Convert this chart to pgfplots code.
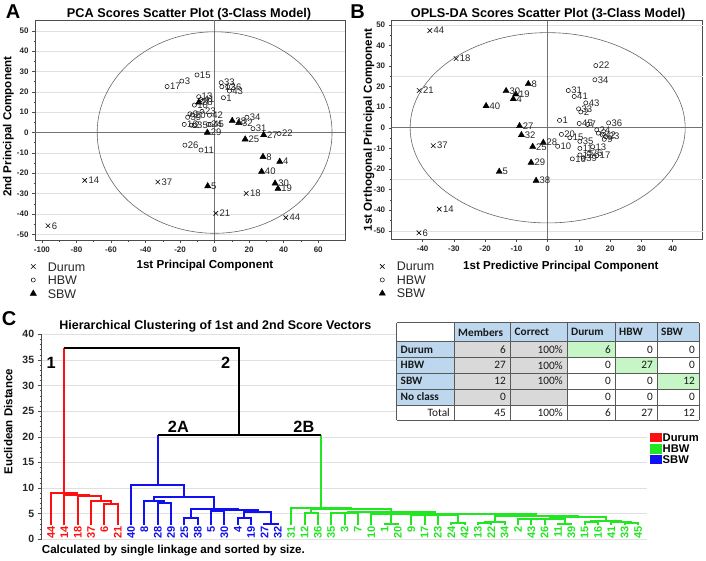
\documentclass[border=0pt]{standalone}
\usepackage{pgfplots}
\usepackage{pgfplotstable}
\pgfplotsset{compat=1.18}
\usepackage{fontspec}
\setmainfont{Liberation Sans}
\newfontfamily\tabfont{Carlito}
\newcommand{\fs}[1]{\fontsize{#1}{#1}\selectfont}
\definecolor{hdr}{HTML}{BDD7EE}
\definecolor{gry}{HTML}{D9D9D9}
\definecolor{grn}{HTML}{C6F5C6}
\definecolor{dgreen}{HTML}{22E622}
\definecolor{dred}{HTML}{FF1010}
\definecolor{dblue}{HTML}{1010F0}
\newcommand{\mrg}[6]{\addplot[#1, line width=2pt] coordinates {(#2,#3) (#2,#6) (#4,#6) (#4,#5)};}

% ---------- data: PCA scores (panel A) ----------
\pgfplotstableread{
x y l
-96.5 -45.8 6
-75.2 -23.5 14
-32.9 -24.3 37
18.3 -29.9 18
0.7 -39.7 21
41.2 -41.8 44
}\Adur
\pgfplotstableread{
x y l
-10.2 28.3 15
-19.0 25.3 3
-27.5 22.6 17
3.8 24.5 33
4.2 22.5 12
7.6 22.5 36
8.6 20.4 43
5.1 17.1 1
-9.2 17.6 13
-8.0 16.2 41
-7.2 15.4 7
-11.7 13.5 10
-7.3 10.4 23
-3.0 8.5 42
-14.3 9.2 9
-15.6 7.5 39
-13.0 8.6 20
-17.6 4.0 16
-11.8 3.4 35
-13.5 3.6 2
-3.6 4.0 24
-2.5 4.0 45
18.7 7.5 34
22.2 1.9 31
37.3 -0.5 22
-17.2 -6.2 26
-7.9 -8.6 11
}\Ahbw
\pgfplotstableread{
x y l
-4.2 0.0 29
-4.0 -26.3 5
17.7 -3.3 25
28.4 -1.2 27
28.0 -11.9 8
37.7 -14.3 4
27.2 -19.2 40
35.0 -25.0 30
36.7 -27.6 19
-9.2 14.8 28
10.2 5.8 38
14.0 4.8 32
}\Asbw
% ---------- data: OPLS-DA scores (panel B) ----------
\pgfplotstableread{
x y l
-37.7 47.2 44
-29.3 33.6 18
-41.1 18.1 21
-36.6 -8.7 37
-34.7 -39.5 14
-41.2 -51.0 6
}\Bdur
\pgfplotstableread{
x y l
15.4 30.2 22
15.1 23.3 34
6.6 18.1 31
8.5 15.2 41
12.2 12.1 43
9.9 9.2 33
10.6 7.7 2
3.8 3.6 1
10.1 2.1 45
12.8 1.6 7
19.5 2.4 36
4.4 -3.2 20
7.1 -4.8 15
3.2 -9.0 10
10.3 -6.6 35
15.7 -1.0 24
16.2 -2.6 3
17.5 -3.5 42
18.6 -4.3 23
18.1 -5.6 9
14.4 -9.2 13
10.3 -10.0 11
15.7 -13.5 17
10.3 -13.2 12
13.2 -12.4 26
7.9 -15.1 16
11.4 -14.8 39
}\Bhbw
\pgfplotstableread{
x y l
-6.2 21.3 8
-13.3 17.9 30
-10.2 16.3 19
-11.0 14.0 4
-19.7 10.6 40
-9.0 0.9 27
-8.4 -3.5 32
-1.4 -7.2 28
-4.8 -9.2 25
-5.3 -16.9 29
-15.5 -21.3 5
-3.7 -25.7 38
}\Bsbw

\pgfplotsset{
 scatterax/.style={
  scale only axis, anchor=south west,
  tick align=outside, tick pos=left,
  minor x tick num=1, minor y tick num=1,
  major tick length=3pt, minor tick length=1.5pt,
  axis line style={black!70, line width=0.6pt},
  every tick/.style={black!70, line width=0.5pt},
  grid style={black!12, line width=0.5pt},
  ticklabel style={font=\bfseries\fs{8}, text=black!85},
  /pgf/number format/assume math mode=true,
  every axis title shift=0pt,
  title style={anchor=center, font=\bfseries\fs{12.7}},
  xlabel style={anchor=center, font=\bfseries\fs{11.6}},
  ylabel style={anchor=center, font=\bfseries\fs{11.6}},
  legend style={anchor=north west, draw=none, fill=none, font=\fs{12.5}, inner sep=0pt, outer sep=0pt,
     row sep=4.5pt, column sep=0pt, nodes={inner sep=0pt, text height=9pt, text depth=0pt, text=black!85}},
  legend cell align=left,
  legend image code/.code={\path[draw=none, fill=none] (-3.5pt,-3pt) rectangle (14.5pt,3pt);
     \draw[mark repeat=2,mark phase=2,##1] plot coordinates {(-1pt,0pt) (0pt,0pt) (1pt,0pt)};},
  clip=false,
 },
 durum/.style={only marks, mark=x, mark size=3.2pt, black, line width=0.6pt},
 hbw/.style={only marks, mark=o, mark size=2.1pt, black, line width=0.5pt},
 sbw/.style={only marks, mark=triangle*, mark size=3.6pt, black},
 lbl/.style={draw=none, forget plot, nodes near coords, point meta=explicit symbolic,
   every node near coord/.append style={anchor=west, font=\fs{9.5}, inner sep=0pt, text=black!85, xshift=#1}},
 leaf/.style={draw=none, forget plot, nodes near coords, point meta=explicit symbolic,
   every node near coord/.append style={rotate=90, anchor=east, font=\bfseries\fs{11}, inner sep=0pt, text=#1}},
}
\begin{document}
\begin{tikzpicture}
\useasboundingbox (0,0) rectangle (706pt,560pt);

% ---------------- Panel A ----------------
\begin{axis}[scatterax, at={(35pt,320pt)}, width=310pt, height=220pt,
 xmin=-104, xmax=75.5, ymin=-52.8, ymax=55.3,
 xtick={-100,-80,...,60}, ytick={-50,-40,...,50}, ymajorgrids,
 title={PCA Scores Scatter Plot (3-Class Model)}, title style={at={(axis description cs:0.497,1.027)}},
 xlabel={1st Principal Component}, xlabel style={at={(axis description cs:0.548,-0.117)}},
 ylabel={2nd Principal Component}, ylabel style={at={(axis description cs:-0.086,0.515)}},
 legend style={at={(axis description cs:-0.0168,-0.1)}}]
\draw[black!55, line width=0.7pt] (axis cs:0,-52.8) -- (axis cs:0,55.3);
\draw[black!55, line width=0.7pt] (axis cs:-104,0) -- (axis cs:75.5,0);
\draw[black!60, line width=0.6pt] (axis cs:0,0) ellipse [x radius=68, y radius=49.5];
\addplot[durum] table {\Adur};
\addlegendentry{Durum}
\addplot[hbw] table {\Ahbw};
\addlegendentry{HBW}
\addplot[sbw] table {\Asbw};
\addlegendentry{SBW}
\addplot[lbl=3.6pt] table[meta=l] {\Adur};
\addplot[lbl=2.8pt] table[meta=l] {\Ahbw};
\addplot[lbl=3.2pt] table[meta=l] {\Asbw};
\end{axis}

% ---------------- Panel B ----------------
\begin{axis}[scatterax, at={(391.7pt,321pt)}, width=311pt, height=218.3pt,
 xmin=-49.9, xmax=49.6, ymin=-54, ymax=52,
 xtick={-40,-30,...,40}, ytick={-50,-40,...,50},
 title={OPLS-DA Scores Scatter Plot (3-Class Model)}, title style={at={(axis description cs:0.503,1.031)}},
 xlabel={1st Predictive Principal Component}, xlabel style={at={(axis description cs:0.544,-0.124)}},
 ylabel={1st Orthogonal Principal Component}, ylabel style={at={(axis description cs:-0.073,0.499)}},
 legend style={at={(axis description cs:-0.0415,-0.105)}}]
\draw[black!12, line width=0.5pt] (axis cs:-49.9,25) -- (axis cs:49.6,25);
\draw[black!12, line width=0.5pt] (axis cs:-49.9,-25) -- (axis cs:49.6,-25);
\draw[black!12, line width=0.5pt] (axis cs:-49.9,-50) -- (axis cs:49.6,-50);
\draw[black!12, line width=0.5pt] (axis cs:-49.9,50) -- (axis cs:49.6,50);
\draw[black!55, line width=0.7pt] (axis cs:0,-54) -- (axis cs:0,52);
\draw[black!55, line width=0.7pt] (axis cs:-49.9,0) -- (axis cs:49.6,0);
\draw[black!60, line width=0.6pt] (axis cs:0,0) ellipse [x radius=44, y radius=46.2];
\addplot[durum] table {\Bdur};
\addlegendentry{Durum}
\addplot[hbw] table {\Bhbw};
\addlegendentry{HBW}
\addplot[sbw] table {\Bsbw};
\addlegendentry{SBW}
\addplot[lbl=3.6pt] table[meta=l] {\Bdur};
\addplot[lbl=2.8pt] table[meta=l] {\Bhbw};
\addplot[lbl=3.2pt] table[meta=l] {\Bsbw};
\end{axis}

% ---------------- Panel C ----------------
\begin{axis}[at={(41.7pt,20.7pt)}, anchor=south west, scale only axis, width=605pt, height=205pt,
 xmin=0.3, xmax=45.65, ymin=0, ymax=40,
 axis x line=none, axis y line*=left, xtick=\empty,
 ytick={0,5,...,40}, minor y tick num=4, tick align=outside,
 major tick length=4pt, minor tick length=2pt,
 ymajorgrids, grid style={black!12, line width=0.6pt},
 axis line style={black!70, line width=0.6pt},
 every tick/.style={black!70, line width=0.5pt},
 ticklabel style={font=\bfseries\fs{10.5}, text=black!85},
 /pgf/number format/assume math mode=true,
 every axis title shift=0pt,
 ylabel={Euclidean Distance}, ylabel style={at={(axis description cs:-0.0552,0.574)}, anchor=center, font=\bfseries\fs{11.5}},
 title={Hierarchical Clustering of 1st and 2nd Score Vectors}, title style={at={(axis description cs:0.287,1.037)}, anchor=center, font=\bfseries\fs{12.5}},
 clip=false]
% red cluster
\mrg{dred}{5}{2.8}{6}{2.8}{6.8}
\mrg{dred}{4}{2.8}{5.5}{6.8}{7.4}
\mrg{dred}{3}{2.8}{4.75}{7.4}{8.4}
\mrg{dred}{2}{2.8}{3.875}{8.4}{8.7}
\mrg{dred}{1}{2.8}{2.9375}{8.7}{9.1}
\addplot[dred, line width=2pt] coordinates {(1.969,9.1) (1.969,37.3)};
% blue cluster
\mrg{dblue}{9}{2.8}{10}{2.8}{7.0}
\mrg{dblue}{8}{2.8}{9.5}{7.0}{7.4}
\mrg{dblue}{11}{2.8}{12}{2.8}{4.1}
\mrg{dblue}{13}{2.8}{14}{2.8}{5.6}
\mrg{dblue}{15}{2.8}{16}{2.8}{4.1}
\mrg{dblue}{17}{2.8}{18}{2.8}{3.05}
\mrg{dblue}{15.5}{4.1}{17.5}{3.05}{5.3}
\mrg{dblue}{13.5}{5.6}{16.5}{5.3}{5.8}
\mrg{dblue}{11.5}{4.1}{15.0}{5.8}{6.0}
\mrg{dblue}{8.75}{7.4}{13.25}{6.0}{8.2}
\mrg{dblue}{7}{2.8}{11.0}{8.2}{10.6}
\addplot[dblue, line width=2pt] coordinates {(9.0,10.6) (9.0,20.3)};
% green cluster
\mrg{dgreen}{26}{2.8}{27}{2.8}{3.05}
\mrg{dgreen}{31}{2.8}{32}{2.8}{3.1}
\mrg{dgreen}{33}{2.8}{34}{2.8}{3.1}
\mrg{dgreen}{33.5}{3.1}{35}{2.8}{3.3}
\mrg{dgreen}{39}{2.8}{40}{2.8}{3.05}
\mrg{dgreen}{36}{2.8}{37}{2.8}{3.9}
\mrg{dgreen}{36.5}{3.9}{38}{2.8}{4.0}
\mrg{dgreen}{37.25}{4.0}{39.5}{3.05}{4.05}
\mrg{dgreen}{41}{2.8}{42}{2.8}{3.4}
\mrg{dgreen}{44}{2.8}{45}{2.8}{3.1}
\mrg{dgreen}{43}{2.8}{44.5}{3.1}{3.4}
\mrg{dgreen}{41.5}{3.4}{43.75}{3.4}{3.6}
\mrg{dgreen}{38.375}{4.05}{42.625}{3.6}{4.3}
\mrg{dgreen}{34.25}{3.3}{40.5}{4.3}{4.5}
\mrg{dgreen}{28}{2.8}{29}{2.8}{4.7}
\mrg{dgreen}{28.5}{4.7}{30}{2.8}{4.75}
\mrg{dgreen}{29.25}{4.75}{31.5}{3.1}{4.8}
\mrg{dgreen}{30.375}{4.8}{37.375}{4.5}{4.9}
\mrg{dgreen}{25}{2.8}{26.5}{3.05}{4.9}
\mrg{dgreen}{25.75}{4.9}{33.875}{4.9}{5.0}
\mrg{dgreen}{22}{2.8}{23}{2.8}{5.15}
\mrg{dgreen}{22.5}{5.15}{24}{2.8}{5.2}
\mrg{dgreen}{23.25}{5.2}{29.8}{5.0}{5.3}
\mrg{dgreen}{20}{2.8}{21}{2.8}{5.1}
\mrg{dgreen}{20.5}{5.1}{26.5}{5.3}{6.0}
\mrg{dgreen}{19}{2.8}{23.5}{6.0}{6.2}
\addplot[dgreen, line width=2pt] coordinates {(21.25,6.2) (21.25,20.3)};
% top
\addplot[black, line width=2pt] coordinates {(9.0,20.3) (21.25,20.3)};
\addplot[black, line width=2pt] coordinates {(1.969,37.3) (15.125,37.3) (15.125,20.3)};
% leaf labels
\addplot[leaf=dred] table[meta=l] {
x y l
1 2.65 44
2 2.65 14
3 2.65 18
4 2.65 37
5 2.65 6
6 2.65 21
};
\addplot[leaf=dblue] table[meta=l] {
x y l
7 2.65 40
8 2.65 8
9 2.65 28
10 2.65 29
11 2.65 25
12 2.65 38
13 2.65 5
14 2.65 30
15 2.65 4
16 2.65 19
17 2.65 27
18 2.65 32
};
\addplot[leaf=dgreen] table[meta=l] {
x y l
19 2.65 31
20 2.65 12
21 2.65 36
22 2.65 35
23 2.65 3
24 2.65 7
25 2.65 10
26 2.65 1
27 2.65 20
28 2.65 9
29 2.65 17
30 2.65 23
31 2.65 24
32 2.65 42
33 2.65 13
34 2.65 22
35 2.65 34
36 2.65 2
37 2.65 43
38 2.65 26
39 2.65 11
40 2.65 39
41 2.65 15
42 2.65 16
43 2.65 41
44 2.65 33
45 2.65 45
};
\node[font=\bfseries\fs{16.3}, anchor=east] at (axis cs:1.62,34.5) {1};
\node[font=\bfseries\fs{16.3}, anchor=east] at (axis cs:14.7,34.5) {2};
\node[font=\bfseries\fs{16.3}, anchor=south west, inner sep=0pt] at (axis cs:9.75,20.8) {2A};
\node[font=\bfseries\fs{16.3}, anchor=south east, inner sep=0pt] at (axis cs:20.75,20.8) {2B};
\end{axis}

% panel letters and note
\node[font=\bfseries\fs{20}] at (13pt,548pt) {A};
\node[font=\bfseries\fs{20}] at (357.5pt,548pt) {B};
\node[font=\bfseries\fs{20}] at (9pt,241pt) {C};
\node[anchor=west, font=\bfseries\fs{11.6}, inner sep=0pt] at (41.7pt,9.3pt) {Calculated by single linkage and sorted by size.};

% table
\fill[white] (396.7pt,140pt) rectangle (699pt,237.3pt);
\fill[hdr] (454pt,218.3pt) rectangle (699pt,237.3pt);
\fill[hdr] (396.7pt,155pt) rectangle (454pt,218.3pt);
\fill[gry] (454pt,155pt) rectangle (567.3pt,218.3pt);
\fill[grn] (567.3pt,202.7pt) rectangle (615pt,218.3pt);
\fill[grn] (615pt,186.7pt) rectangle (657.3pt,202.7pt);
\fill[grn] (657.3pt,171pt) rectangle (699pt,186.7pt);
\foreach \x in {396.7,454,510.7,567.3,615,657.3,699} {\draw[black!65, line width=0.7pt] (\x pt,140pt) -- (\x pt,237.3pt);}
\foreach \y in {140,155,171,186.7,202.7,218.3,237.3} {\draw[black!65, line width=0.7pt] (396.7pt,\y pt) -- (699pt,\y pt);}
\begin{scope}[every node/.style={font=\tabfont\fs{11.3}, inner sep=0pt, text=black!90}]
\foreach \x/\t in {458/Members,514.5/Correct,571/Durum,619/HBW,661/SBW} {\node[anchor=west, font=\tabfont\bfseries\fs{11.3}] at (\x pt,227.8pt) {\t};}
\foreach \y/\t in {210.5/Durum,194.7/HBW,178.85/SBW,163/No class} {\node[anchor=west, font=\tabfont\bfseries\fs{11.3}] at (400.5pt,\y pt) {\t};}
\node[anchor=east] at (450pt,147.5pt) {Total};
\foreach \y/\a/\b/\c/\d/\e in {210.5/6/100\%/6/0/0, 194.7/27/100\%/0/27/0, 178.85/12/100\%/0/0/12, 163/0//0/0/0, 147.5/45/100\%/6/27/12} {
 \node[anchor=east] at (506pt,\y pt) {\a};
 \node[anchor=east] at (563pt,\y pt) {\b};
 \node[anchor=east] at (611pt,\y pt) {\c};
 \node[anchor=east] at (653pt,\y pt) {\d};
 \node[anchor=east] at (695pt,\y pt) {\e};
}
\end{scope}

% legend C
\fill[dred] (650pt,117.7pt) rectangle (661.7pt,126.7pt);
\fill[dgreen] (650pt,106pt) rectangle (661.7pt,116pt);
\fill[dblue] (650pt,96pt) rectangle (661.7pt,105pt);
\node[anchor=west, font=\bfseries\fs{11.2}, inner sep=0pt] at (662.5pt,122.2pt) {Durum};
\node[anchor=west, font=\bfseries\fs{11.2}, inner sep=0pt] at (662.5pt,111pt) {HBW};
\node[anchor=west, font=\bfseries\fs{11.2}, inner sep=0pt] at (662.5pt,100.5pt) {SBW};
\end{tikzpicture}
\end{document}
